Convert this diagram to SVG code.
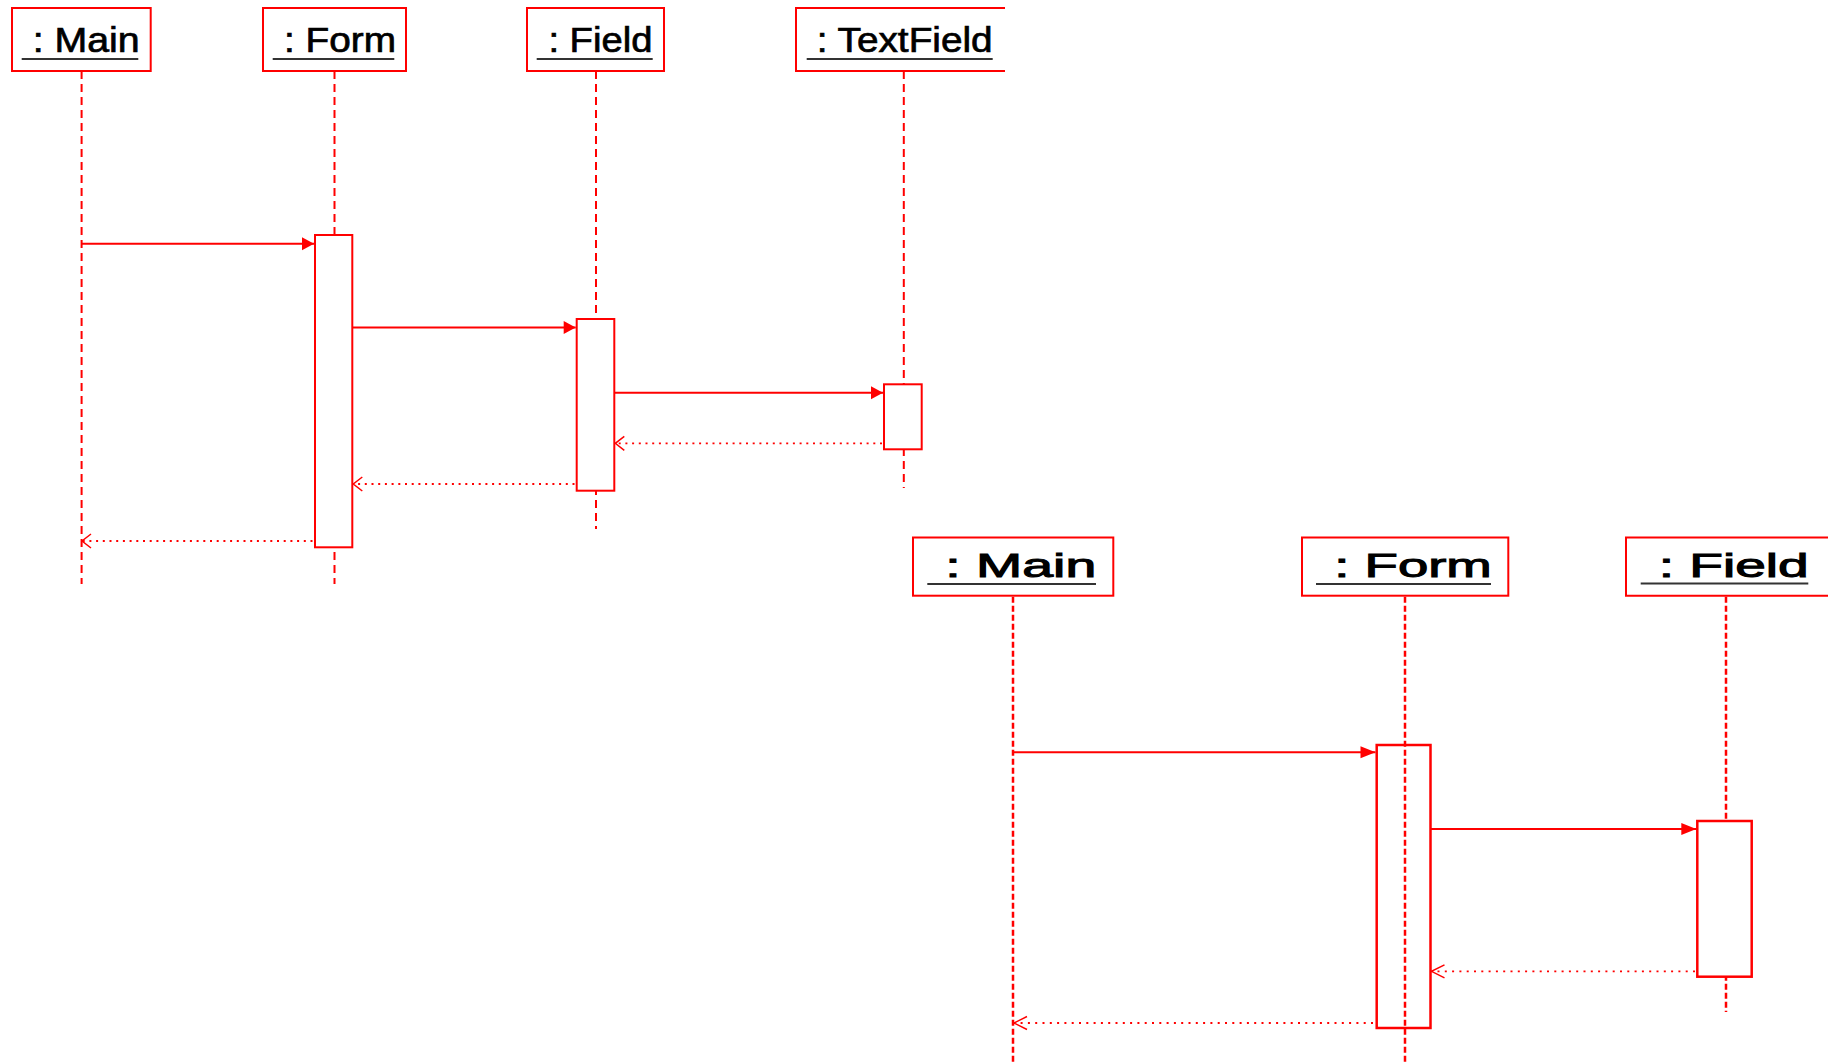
<svg xmlns="http://www.w3.org/2000/svg" width="1828" height="1064" viewBox="0 0 1828 1064">
<style>
.box{fill:#fff;stroke:#f00;stroke-width:2}
.open{fill:none;stroke:#f00;stroke-width:2}
.life{fill:none;stroke:#f00;stroke-width:2;stroke-dasharray:8 5}
.life2{fill:none;stroke:#f00;stroke-width:2.5;stroke-dasharray:6 3}
.act{fill:#fff;stroke:#f00;stroke-width:2}
.act2{fill:#fff;stroke:#f00;stroke-width:2.5}
.msg{fill:none;stroke:#f00;stroke-width:2}
.ret{fill:none;stroke:#f00;stroke-width:1.8;stroke-dasharray:2 4.7}
.ret2{fill:none;stroke:#f00;stroke-width:1.8;stroke-dasharray:2 5.3}
.lbl{font-family:"Liberation Sans",Arial,sans-serif;font-size:35px;fill:#000;stroke:#000;stroke-width:0.7}
.lbl2{font-family:"Liberation Sans",Arial,sans-serif;font-size:33px;fill:#000;stroke:#000;stroke-width:1}
.ul{stroke:#333;stroke-width:2}
</style>
<defs>
<marker id="fill1" markerUnits="userSpaceOnUse" markerWidth="20" markerHeight="20" refX="0" refY="0" orient="auto" overflow="visible">
<path d="M-12,-6.5 L0,0 L-12,6.5 Z" fill="#f00" stroke="none"/>
</marker>
<marker id="fill2" markerUnits="userSpaceOnUse" markerWidth="20" markerHeight="20" refX="0" refY="0" orient="auto" overflow="visible">
<path d="M-15,-6 L0,0 L-15,6 Z" fill="#f00" stroke="none"/>
</marker>
<marker id="open1" markerUnits="userSpaceOnUse" markerWidth="20" markerHeight="20" refX="0" refY="0" orient="auto" overflow="visible">
<path d="M-9,-7 L0,0 L-9,7" fill="none" stroke="#f00" stroke-width="1.5"/>
</marker>
<marker id="open2" markerUnits="userSpaceOnUse" markerWidth="20" markerHeight="20" refX="0" refY="0" orient="auto" overflow="visible">
<path d="M-13,-6.5 L0,0 L-13,6.5" fill="none" stroke="#f00" stroke-width="1.5"/>
</marker>
</defs>
<rect width="1828" height="1064" fill="#fff"/>

<!-- Top sequence -->
<g id="main1">
<line class="life" x1="81.6" y1="71" x2="81.6" y2="584"/>
<rect class="box" x="12" y="8" width="138.7" height="63"/>
<text class="lbl" x="32.7" y="52" textLength="107" lengthAdjust="spacingAndGlyphs">: Main</text>
<line class="ul" x1="21.7" y1="59" x2="138.3" y2="59"/>
</g>
<g id="form1">
<line class="life" x1="334.5" y1="71" x2="334.5" y2="584"/>
<rect class="box" x="263" y="8" width="143" height="63"/>
<text class="lbl" x="284" y="52" textLength="112" lengthAdjust="spacingAndGlyphs">: Form</text>
<line class="ul" x1="272.7" y1="59" x2="394.3" y2="59"/>
<rect class="act" x="315" y="235" width="37.3" height="312.3"/>
</g>
<g id="field1">
<line class="life" x1="596" y1="71" x2="596" y2="529"/>
<rect class="box" x="527" y="8" width="137" height="63"/>
<text class="lbl" x="548.4" y="52" textLength="104" lengthAdjust="spacingAndGlyphs">: Field</text>
<line class="ul" x1="536.7" y1="59" x2="652.7" y2="59"/>
<rect class="act" x="576.7" y="319" width="37.6" height="171.7"/>
</g>
<g id="textfield1">
<line class="life" x1="903.8" y1="71" x2="903.8" y2="488"/>
<path class="open" d="M1005,8 H796 V71 H1005"/>
<text class="lbl" x="816.7" y="52" textLength="176" lengthAdjust="spacingAndGlyphs">: TextField</text>
<line class="ul" x1="806.7" y1="59" x2="992.7" y2="59"/>
<rect class="act" x="884" y="384.3" width="37.7" height="65"/>
</g>

<!-- Bottom sequence -->
<g id="main2">
<rect class="box" x="913" y="537.5" width="200.3" height="58.2"/>
<text class="lbl2" x="945.3" y="577" textLength="151" lengthAdjust="spacingAndGlyphs">: Main</text>
<line class="ul" x1="927.3" y1="584" x2="1096" y2="584"/>
<line class="life2" x1="1013" y1="596.7" x2="1013" y2="1064"/>
</g>
<g id="form2">
<rect class="box" x="1302" y="537.5" width="206.3" height="58.2"/>
<text class="lbl2" x="1334.3" y="577" textLength="157.5" lengthAdjust="spacingAndGlyphs">: Form</text>
<line class="ul" x1="1316" y1="584" x2="1491" y2="584"/>
<rect class="act2" x="1376.7" y="745" width="53.8" height="283"/>
<line class="life2" x1="1405" y1="596.7" x2="1405" y2="1064"/>
</g>
<g id="field2">
<path class="open" d="M1830,537.5 H1626 V595.7 H1830"/>
<text class="lbl2" x="1658.7" y="577" textLength="150" lengthAdjust="spacingAndGlyphs">: Field</text>
<line class="ul" x1="1640.7" y1="583.5" x2="1808.3" y2="583.5"/>
<line class="life2" x1="1726" y1="596.7" x2="1726" y2="1012"/>
<rect class="act2" x="1697.3" y="821" width="54.4" height="155.7"/>
</g>

<g id="connectors">
<line class="msg" x1="81.6" y1="243.7" x2="314" y2="243.7" marker-end="url(#fill1)"/>
<line class="msg" x1="352.3" y1="327.5" x2="575.7" y2="327.5" marker-end="url(#fill1)"/>
<line class="msg" x1="614.3" y1="392.7" x2="883" y2="392.7" marker-end="url(#fill1)"/>
<line class="ret" x1="882" y1="443.3" x2="615.3" y2="443.3" marker-end="url(#open1)"/>
<line class="ret" x1="574.5" y1="484" x2="353.3" y2="484" marker-end="url(#open1)"/>
<line class="ret" x1="312.5" y1="541" x2="82" y2="541" marker-end="url(#open1)"/>

<line class="msg" x1="1013" y1="752.3" x2="1375.5" y2="752.3" marker-end="url(#fill2)"/>
<line class="msg" x1="1430.5" y1="829" x2="1696.3" y2="829" marker-end="url(#fill2)"/>
<line class="ret2" x1="1695" y1="971.3" x2="1431.5" y2="971.3" marker-end="url(#open2)"/>
<line class="ret2" x1="1373" y1="1023" x2="1014" y2="1023" marker-end="url(#open2)"/>
</g>
</svg>
